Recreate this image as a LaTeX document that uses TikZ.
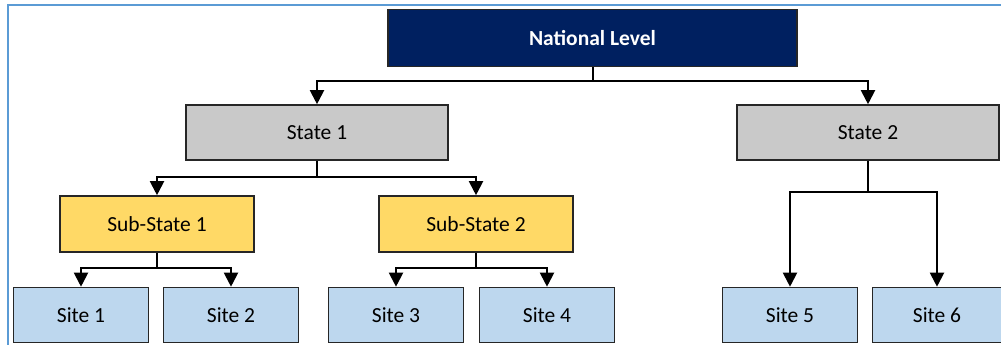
\documentclass[tikz,border=0pt]{standalone}
\usepackage{fontspec}
\setmainfont{Carlito}
\usepackage{tikz}
\usetikzlibrary{positioning, arrows.meta}

\definecolor{navy}{HTML}{002060}
\definecolor{stategray}{HTML}{C9C9C9}
\definecolor{subyellow}{HTML}{FFD966}
\definecolor{siteblue}{HTML}{BDD7EE}
\definecolor{frameblue}{HTML}{5B9BD5}

\begin{document}
\begin{tikzpicture}[on grid, x=1pt, y=1pt,
        box/.style={draw=black!85, line width=1.6pt, rectangle,
            font=\fontsize{21.5pt}{26pt}\selectfont, text=black},
        natbox/.style={box, fill=navy, text=white, font=\fontsize{21.5pt}{26pt}\selectfont\bfseries,
            minimum width=409pt, minimum height=57pt},
        statebox/.style={box, fill=stategray, minimum width=262pt, minimum height=55pt},
        subbox/.style={box, fill=subyellow, minimum width=194pt, minimum height=56pt},
        sitebox/.style={box, fill=siteblue, minimum width=135pt, minimum height=55pt},
        arr/.style={-{Triangle[width=14pt,length=14pt]}, line width=2pt}]
    \useasboundingbox (0,0) rectangle (1001,-345);
    \draw[frameblue, line width=2.5pt] (8,-346) -- (8,-5) -- (1002,-5);

    \node[natbox] (nat) at (592.5,-38) {National Level};
    \node[statebox] (s1) [below left=94.5pt and 275.5pt of nat] {State 1};
    \node[statebox] (s2) [below right=94.5pt and 275.5pt of nat] {State 2};
    \node[subbox] (ss1) [below left=91.5pt and 160pt of s1] {Sub-State 1};
    \node[subbox] (ss2) [below right=91.5pt and 159pt of s1] {Sub-State 2};
    \node[sitebox] (site1) [below left=91pt and 76pt of ss1] {Site 1};
    \node[sitebox] (site2) [below right=91pt and 74pt of ss1] {Site 2};
    \node[sitebox] (site3) [below left=91pt and 80pt of ss2] {Site 3};
    \node[sitebox] (site4) [below right=91pt and 71pt of ss2] {Site 4};
    \node[sitebox] (site5) [below left=182.5pt and 78pt of s2] {Site 5};
    \node[sitebox, minimum width=129pt] (site6) [below right=182.5pt and 69pt of s2] {Site 6};

    \coordinate (jnat) at ([yshift=-14pt]nat.south);
    \coordinate (js1) at ([yshift=-16pt]s1.south);
    \coordinate (js2) at ([yshift=-31pt]s2.south);
    \coordinate (jss1) at ([yshift=-15pt]ss1.south);
    \coordinate (jss2) at ([yshift=-15pt]ss2.south);

    \draw[arr] (nat.south) -- (jnat) -| (s1.north);
    \draw[arr] (nat.south) -- (jnat) -| (s2.north);
    \draw[arr] (s1.south) -- (js1) -| (ss1.north);
    \draw[arr] (s1.south) -- (js1) -| (ss2.north);
    \draw[arr] (s2.south) -- (js2) -| (site5.north);
    \draw[arr] (s2.south) -- (js2) -| (site6.north);
    \draw[arr] (ss1.south) -- (jss1) -| (site1.north);
    \draw[arr] (ss1.south) -- (jss1) -| (site2.north);
    \draw[arr] (ss2.south) -- (jss2) -| (site3.north);
    \draw[arr] (ss2.south) -- (jss2) -| (site4.north);
\end{tikzpicture}
\end{document}
